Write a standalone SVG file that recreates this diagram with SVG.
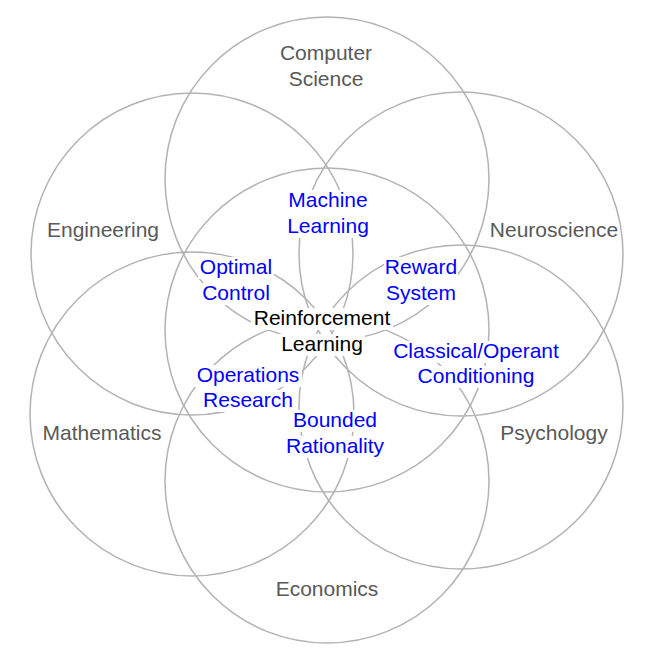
<svg xmlns="http://www.w3.org/2000/svg" width="661" height="655" viewBox="0 0 661 655">
<style>
.c{fill:none;stroke:#b3b3b3;stroke-width:1.5}
.t{font-family:"Liberation Sans",Arial,sans-serif;font-size:21px;text-anchor:middle}
.o{fill:#595959}
.b{fill:#0000ff}
.k{fill:#000}
.bg{fill:#fff}
</style>
<rect width="661" height="655" fill="#fff"/>
<g id="circles">
<circle id="c-cs" class="c" cx="327" cy="179" r="162"/>
<circle id="c-eng" class="c" cx="192" cy="254" r="161"/>
<circle id="c-neuro" class="c" cx="461" cy="254" r="162"/>
<circle id="c-math" class="c" cx="192" cy="414" r="162"/>
<circle id="c-psy" class="c" cx="461" cy="407" r="162"/>
<circle id="c-econ" class="c" cx="327" cy="481" r="162"/>
<circle id="c-rl" class="c" cx="327" cy="330" r="162"/>
</g>
<g id="outer-labels" class="t o">
<text x="326" y="60">Computer</text>
<text x="326" y="86">Science</text>
<text x="103" y="237">Engineering</text>
<text x="554" y="237">Neuroscience</text>
<text x="102" y="440">Mathematics</text>
<text x="554" y="440">Psychology</text>
<text x="327" y="596">Economics</text>
</g>
<g id="ml">
<rect class="bg" x="285" y="190" width="86" height="48"/>
<text class="t b" x="328" y="207">Machine</text>
<text class="t b" x="328" y="233">Learning</text>
</g>
<g id="oc">
<rect class="bg" x="198" y="257" width="76" height="22"/>
<rect class="bg" x="201" y="283" width="70" height="22"/>
<text class="t b" x="236" y="274">Optimal</text>
<text class="t b" x="236" y="300">Control</text>
</g>
<g id="rs">
<rect class="bg" x="384" y="257" width="74" height="48"/>
<text class="t b" x="421" y="274">Reward</text>
<text class="t b" x="421" y="300">System</text>
</g>
<g id="rl">
<rect class="bg" x="251" y="308" width="142" height="22"/>
<rect class="bg" x="278" y="334" width="87" height="22"/>
<text class="t k" x="322" y="325">Reinforcement</text>
<text class="t k" x="322" y="351">Learning</text>
</g>
<g id="cc">
<rect class="bg" x="387" y="341" width="177" height="22"/>
<rect class="bg" x="415" y="366" width="122" height="22"/>
<text class="t b" x="476" y="358">Classical/Operant</text>
<text class="t b" x="476" y="383">Conditioning</text>
</g>
<g id="or">
<rect class="bg" x="194" y="365" width="108" height="22"/>
<rect class="bg" x="201" y="390" width="94" height="22"/>
<text class="t b" x="248" y="382">Operations</text>
<text class="t b" x="248" y="407">Research</text>
</g>
<g id="br">
<rect class="bg" x="291" y="410" width="88" height="22"/>
<rect class="bg" x="283" y="436" width="104" height="22"/>
<text class="t b" x="335" y="427">Bounded</text>
<text class="t b" x="335" y="453">Rationality</text>
</g>
</svg>
